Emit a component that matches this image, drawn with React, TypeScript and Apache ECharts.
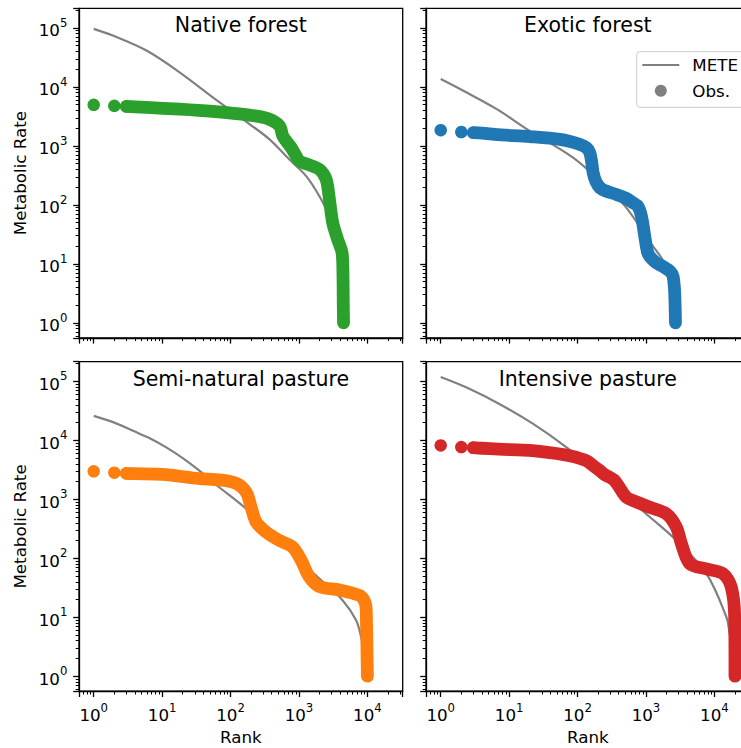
import React, { useEffect, useRef } from 'react';
import * as echarts from 'echarts';

const panelTitles = ['Native forest', 'Exotic forest', 'Semi-natural pasture', 'Intensive pasture'];
const obsColors = ['#2ca02c', '#1f77b4', '#ff7f0e', '#d62728'];
const meteColor = '#808080';

// Native forest
const nativeObsRank = [1, 2, 3, 4, 5.9, 18, 55, 180, 350, 519, 580, 650, 770, 910, 1016, 1350, 1990, 2500, 2790, 3120, 3690, 4270, 4400, 4440, 4460, 4480];
const nativeObsValue = [4975, 4790, 4680, 4600, 4490, 4200, 3840, 3350, 2900, 2185, 1475, 1213, 935, 673, 553, 486, 400, 270, 123, 49, 25.6, 15.2, 6.1, 2.1, 1.4, 1];
const nativeMeteRank = [1, 1.9, 5.9, 18, 55, 189, 371, 725, 1275, 1990, 2640, 3300, 4000, 4500];
const nativeMeteValue = [96800, 74500, 41400, 17700, 6650, 2350, 1295, 590, 307, 140, 71, 28, 10, 2];

// Exotic forest
const exoticObsRank = [1, 2, 3, 4, 7, 20, 55, 108, 135, 150, 160, 169, 185, 212, 260, 371, 520, 650, 760, 860, 961, 1050, 1137, 1400, 1780, 2300, 2490, 2600, 2650, 2700];
const exoticObsValue = [1850, 1720, 1680, 1650, 1550, 1440, 1290, 1065, 930, 780, 560, 351, 250, 195, 172, 150, 128, 108, 95, 64, 29, 16, 13.3, 10.5, 9, 7.3, 6.1, 4, 2.5, 1];
const exoticMeteRank = [1, 2.14, 6.6, 20, 55, 86, 128, 251, 519, 1270, 1690, 2240, 2700];
const exoticMeteValue = [13600, 8610, 4200, 1795, 890, 631, 437, 219, 89, 19.7, 12.5, 6.3, 1.6];

// Semi-natural pasture
const semiObsRank = [1, 2, 3, 4, 10, 35, 69, 121, 170, 200, 237, 333, 519, 810, 1080, 1420, 2000, 3900, 7640, 8800, 9500, 9700, 9850, 10000];
const semiObsValue = [2980, 2830, 2755, 2720, 2650, 2250, 2130, 1865, 1315, 733, 410, 277, 200, 154, 92, 48, 33, 29, 23.5, 20, 15.7, 8, 3, 1];
const semiMeteRank = [1, 2, 3.75, 6.6, 11.5, 20, 35, 62, 170, 1016, 2000, 4360, 6840, 8100, 9000, 9700];
const semiMeteValue = [26000, 20000, 14500, 10900, 7600, 5000, 3060, 1750, 688, 92, 45, 19.3, 8.9, 4.6, 2.5, 1.5];

// Intensive pasture
const intObsRank = [1, 2, 3, 4, 7, 22, 69, 97, 135, 169, 212, 250, 297, 350, 439, 519, 650, 1137, 1990, 2790, 3300, 4360, 7640, 13360, 17700, 19800, 20000];
const intObsValue = [8200, 7700, 7500, 7350, 7100, 6670, 5630, 5130, 4520, 3720, 3060, 2620, 2355, 2070, 1400, 1080, 950, 733, 566, 336, 176, 81, 66, 55, 32, 10, 1];
const intMeteRank = [1, 2.4, 7.3, 22.5, 69, 300, 600, 1150, 2790, 7640, 15000, 16700, 20000];
const intMeteValue = [119000, 78600, 41100, 19000, 7590, 1900, 950, 496, 200, 55, 10, 5.3, 1.5];

const panels = [
  { obsRank: nativeObsRank, obsValue: nativeObsValue, meteRank: nativeMeteRank, meteValue: nativeMeteValue },
  { obsRank: exoticObsRank, obsValue: exoticObsValue, meteRank: exoticMeteRank, meteValue: exoticMeteValue },
  { obsRank: semiObsRank, obsValue: semiObsValue, meteRank: semiMeteRank, meteValue: semiMeteValue },
  { obsRank: intObsRank, obsValue: intObsValue, meteRank: intMeteRank, meteValue: intMeteValue },
];

const FONT = 'DejaVu Sans';
const X_MIN = Math.pow(10, -0.215);
const X_MAX = Math.pow(10, 4.516);
const Y_MIN = Math.pow(10, -0.254);
const Y_MAX = Math.pow(10, 5.334);

const gridLeft = [79, 426, 79, 426];
const gridTop = [8.3, 8.3, 361.7, 361.7];
const GRID_W = 323.7;
const GRID_H = 329.5;

function powLabel(v: number) {
  const l = Math.log10(v);
  const e = Math.round(l);
  if (Math.abs(l - e) > 1e-6) return '';
  return '{b|10}{s|' + e + '}';
}

const rich = {
  b: { fontFamily: FONT, fontSize: 16.7, color: '#000', lineHeight: 22, verticalAlign: 'bottom' },
  s: { fontFamily: FONT, fontSize: 11.7, color: '#000', lineHeight: 12, verticalAlign: 'top' },
};

function makeAxis(isX: boolean, idx: number, showLabel: boolean, name: string) {
  return {
    type: 'log',
    logBase: 10,
    gridIndex: idx,
    min: isX ? X_MIN : Y_MIN,
    max: isX ? X_MAX : Y_MAX,
    axisLine: { show: true, onZero: false, lineStyle: { color: '#000', width: 1.3 } },
    axisTick: { show: true, inside: false, length: 5.8, lineStyle: { color: '#000', width: 1.3 } },
    minorTick: { show: true, splitNumber: 9, length: 3.3, lineStyle: { color: '#000', width: 1 } },
    splitLine: { show: false },
    minorSplitLine: { show: false },
    axisLabel: {
      show: showLabel,
      margin: isX ? 10.3 : 11.6,
      formatter: powLabel,
      rich,
      showMinLabel: false,
      showMaxLabel: false,
    },
    name,
    nameLocation: 'middle',
    nameGap: isX ? 37 : 51,
    nameTextStyle: { fontFamily: FONT, fontSize: 16.7, color: '#000' },
  };
}

export default function App() {
  const ref = useRef<HTMLDivElement>(null);
  useEffect(() => {
    if (!ref.current) return;
    const chart = echarts.init(ref.current, null, { renderer: 'svg' });
    const grids = [0, 1, 2, 3].map((i) => ({
      left: gridLeft[i],
      top: gridTop[i],
      width: GRID_W,
      height: GRID_H,
      show: true,
      borderColor: '#000',
      borderWidth: 1.3,
      backgroundColor: 'transparent',
    }));
    const xAxes = [0, 1, 2, 3].map((i) => makeAxis(true, i, i >= 2, i >= 2 ? 'Rank' : ''));
    const yAxes = [0, 1, 2, 3].map((i) => makeAxis(false, i, i % 2 === 0, i % 2 === 0 ? 'Metabolic Rate' : ''));
    const series: any[] = [];
    panels.forEach((p, i) => {
      const obs = p.obsRank.map((r, k) => [r, p.obsValue[k]]);
      series.push({
        type: 'line',
        name: 'METE',
        xAxisIndex: i,
        yAxisIndex: i,
        data: p.meteRank.map((r, k) => [r, p.meteValue[k]]),
        symbol: 'none',
        smooth: 0.35,
        lineStyle: { color: meteColor, width: 2.2 },
        itemStyle: { color: meteColor },
        z: 2,
      });
      series.push({
        type: 'line',
        name: 'Obs.',
        xAxisIndex: i,
        yAxisIndex: i,
        data: obs.filter((d) => d[0] >= 3),
        symbol: 'none',
        smooth: 0.3,
        lineStyle: { color: obsColors[i], width: 12.8, cap: 'round', join: 'round' },
        itemStyle: { color: obsColors[i] },
        z: 3,
      });
      series.push({
        type: 'scatter',
        name: 'Obs.',
        xAxisIndex: i,
        yAxisIndex: i,
        data: obs.filter((d) => d[0] <= 3),
        symbol: 'circle',
        symbolSize: 12.5,
        itemStyle: { color: obsColors[i], opacity: 1 },
        z: 3,
      });
    });
    const titles = panelTitles.map((t, i) => ({
      text: t,
      left: gridLeft[i] + GRID_W / 2,
      top: gridTop[i] + 7,
      textAlign: 'center',
      padding: 0,
      textStyle: { fontFamily: FONT, fontSize: 20.5, fontWeight: 'normal', color: '#000', lineHeight: 20 },
    }));
    chart.setOption({
      animation: false,
      backgroundColor: '#fff',
      title: titles,
      grid: grids,
      xAxis: xAxes,
      yAxis: yAxes,
      legend: {
        orient: 'vertical',
        left: 636.7,
        top: 51.7,
        selectedMode: false,
        data: [
          { name: 'METE', icon: 'path://M0,0 H37 V2.2 H0 Z' },
          { name: 'Obs.', icon: 'circle' },
        ],
        itemWidth: 37,
        itemHeight: 12,
        itemGap: 5.7,
        itemStyle: { color: meteColor, borderWidth: 0, opacity: 1 },
        padding: [3.3, 14, 6.6, 5.6],
        backgroundColor: 'rgba(255,255,255,0.8)',
        borderColor: '#cccccc',
        borderWidth: 1,
        borderRadius: 3,
        textStyle: { fontFamily: FONT, fontSize: 16.7, color: '#000', lineHeight: 20, padding: [0, 0, 0, 8] },
      },
      series,
    });
    return () => chart.dispose();
  }, []);
  return <div ref={ref} style={{ position: 'fixed', left: 0, top: 0, width: 770, height: 748 }} />;
}
